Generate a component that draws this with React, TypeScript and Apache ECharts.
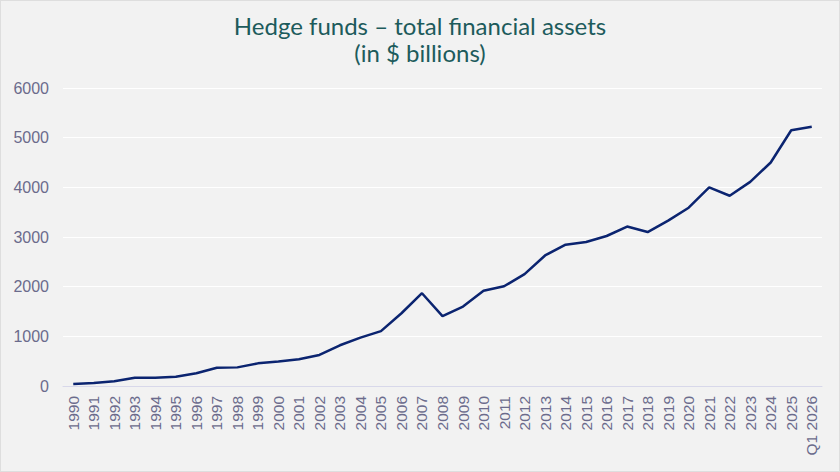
import React, { useEffect, useRef } from "react";
import * as echarts from "echarts";

const years: string[] = [
  "1990", "1991", "1992", "1993", "1994", "1995", "1996", "1997", "1998", "1999",
  "2000", "2001", "2002", "2003", "2004", "2005", "2006", "2007", "2008", "2009",
  "2010", "2011", "2012", "2013", "2014", "2015", "2016", "2017", "2018", "2019",
  "2020", "2021", "2022", "2023", "2024", "2025", "Q1 2026",
];

// Total financial assets held by hedge funds, $ billions
const assets: number[] = [
  39, 58, 96, 168, 167, 186, 257, 368, 375, 456,
  491, 539, 626, 820, 973, 1105, 1465, 1868, 1407, 1600,
  1917, 2008, 2252, 2628, 2845, 2898, 3020, 3211, 3100, 3330,
  3590, 4000, 3830, 4110, 4500, 5150, 5220,
];

const titleLines: string[] = ["Hedge funds – total financial assets", "(in $ billions)"];

export default function App() {
  const ref = useRef<HTMLDivElement>(null);

  useEffect(() => {
    if (!ref.current) return;
    const chart = echarts.init(ref.current, undefined, { renderer: "svg" });
    chart.setOption({
      animation: false,
      backgroundColor: "#f2f2f2",
      title: {
        text: titleLines.join("\n"),
        left: "center",
        top: 6,
        textStyle: {
          color: "#1d5b5c",
          fontFamily: "Lato",
          fontWeight: "normal",
          fontSize: 24,
          lineHeight: 27,
        },
      },
      grid: { left: 62, right: 17, top: 87, bottom: 85, containLabel: false },
      xAxis: {
        type: "category",
        data: years,
        boundaryGap: true,
        axisLine: { show: true, lineStyle: { color: "#d8d8ea", width: 1 } },
        axisTick: { show: false },
        axisLabel: {
          rotate: 90,
          interval: 0,
          margin: 10,
          color: "#6b6b8c",
          fontFamily: "Liberation Sans",
          fontSize: 15.5,
        },
      },
      yAxis: {
        type: "value",
        min: 0,
        max: 6000,
        interval: 1000,
        axisLine: { show: false },
        axisTick: { show: false },
        splitLine: { show: true, lineStyle: { color: "#ffffff", width: 1 } },
        axisLabel: {
          margin: 14,
          color: "#6b6b8c",
          fontFamily: "Liberation Sans",
          fontSize: 16,
          formatter: (v: number) => String(v),
        },
      },
      series: [
        {
          type: "line",
          data: assets,
          symbol: "none",
          lineStyle: { color: "#0b2470", width: 2.5 },
          itemStyle: { color: "#0b2470" },
        },
      ],
    });
    return () => chart.dispose();
  }, []);

  return (
    <div
      style={{
        position: "fixed",
        left: 0,
        top: 0,
        width: 840,
        height: 472,
        boxSizing: "border-box",
        border: "1px solid #dedede",
        background: "#f2f2f2",
      }}
    >
      <div ref={ref} style={{ width: 838, height: 470 }} />
    </div>
  );
}
